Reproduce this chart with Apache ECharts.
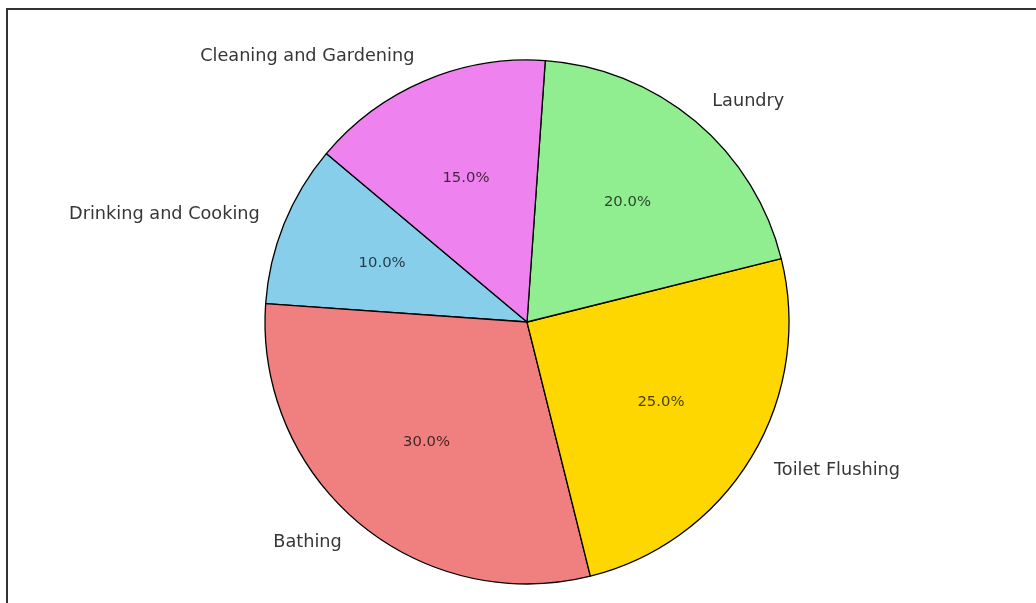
<!DOCTYPE html>
<html>
<head>
<meta charset="utf-8">
<title>Household Water Use</title>
<script src="https://cdn.jsdelivr.net/npm/echarts@6/dist/echarts.min.js"></script>
<style>
  html, body { margin: 0; padding: 0; background: #ffffff; }
  #chart { width: 1036px; height: 603px; }
</style>
</head>
<body>
<div id="chart"></div>
<script>
// Share of household water use by activity (percent)
const categories = ['Drinking and Cooking', 'Bathing', 'Toilet Flushing', 'Laundry', 'Cleaning and Gardening'];
const shares = [10, 30, 25, 20, 15];
const sliceColors = ['#87CEEB', '#F08080', '#FFD700', '#90EE90', '#EE82EE'];

const CX = 527, CY = 322, R = 262;
const START = 140;

const pieData = categories.map((name, i) => ({
  name: name,
  value: shares[i],
  itemStyle: { color: sliceColors[i] }
}));

const chart = echarts.init(document.getElementById('chart'), null, { renderer: 'canvas' });

chart.setOption({
  animation: false,
  backgroundColor: '#ffffff',
  graphic: [{
    type: 'rect',
    silent: true,
    shape: { x: 7, y: 9, width: 1200, height: 800 },
    style: { fill: 'none', stroke: '#333333', lineWidth: 2 }
  }],
  series: [
    {
      // slices with category names placed just outside the rim
      type: 'pie',
      center: [CX, CY],
      radius: [0, R],
      startAngle: START,
      clockwise: false,
      avoidLabelOverlap: false,
      silent: true,
      emphasis: { disabled: true },
      itemStyle: { borderColor: '#000000', borderWidth: 1.3 },
      label: {
        show: true,
        position: 'outside',
        formatter: '{b}',
        color: '#363636',
        fontFamily: 'DejaVu Sans',
        fontSize: 17.7,
        distanceToLabelLine: 0
      },
      labelLine: { show: false, length: R * 0.1, length2: 0 },
      data: pieData
    },
    {
      // transparent ring carrying the percentage labels
      type: 'pie',
      center: [CX, CY],
      radius: [R * 0.17, R],
      startAngle: START,
      clockwise: false,
      silent: true,
      emphasis: { disabled: true },
      itemStyle: { color: 'rgba(0,0,0,0)', borderWidth: 0 },
      label: {
        show: true,
        position: 'inside',
        formatter: p => p.percent.toFixed(1) + '%',
        color: 'rgba(0,0,0,0.72)',
        fontFamily: 'DejaVu Sans',
        fontSize: 14.8
      },
      labelLine: { show: false },
      data: categories.map((name, i) => ({ name: name, value: shares[i] }))
    }
  ]
});
</script>
</body>
</html>
